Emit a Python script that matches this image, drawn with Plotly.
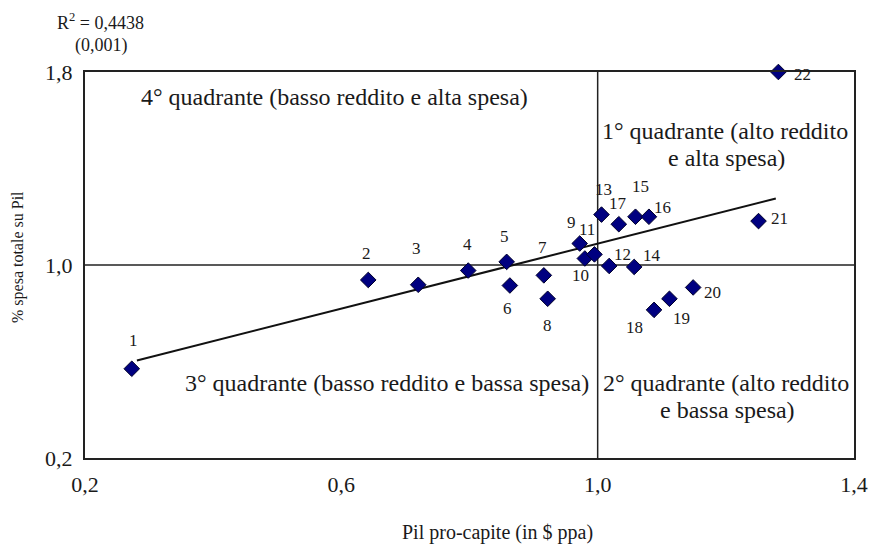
import plotly.graph_objects as go

# Paesi numerati: Pil pro-capite (in $ ppa, indice) e % spesa totale su Pil (indice)
ids = [str(i) for i in range(1, 23)]
pil = [0.273, 0.642, 0.720, 0.798, 0.858, 0.863, 0.916, 0.922, 0.972, 0.980, 0.995,
       1.018, 1.006, 1.057, 1.059, 1.080, 1.033, 1.088, 1.112, 1.149, 1.251, 1.282]
spesa = [0.570, 0.938, 0.918, 0.977, 1.013, 0.915, 0.957, 0.860, 1.089, 1.027, 1.044,
         0.996, 1.209, 0.992, 1.200, 1.200, 1.169, 0.814, 0.860, 0.907, 1.182, 1.800]

# label offsets (px) of each country number relative to its marker
lab_dx = [2, -2, -2, -1, -2, -2, -1, 0, -8, -4, -7, 13, 2, 18, 5, 14, -1, -20, 12, 19, 21, 24]
lab_dy = [28, 26, 36, 26, 25, -23, 28, -27, 21, -17, 25, 11, 25, 11, 30, 9, 21, -18, -20, -5, 3, -2]

# retta di regressione (estremi)
fit_x = [0.281, 1.278]
fit_y = [0.604, 1.276]

x_ticks = [0.2, 0.6, 1.0, 1.4]
y_ticks = [0.2, 1.0, 1.8]

SERIF = "Liberation Serif, Times New Roman, serif"
INK = "#1a1a1a"

fig = go.Figure()

fig.add_trace(go.Scatter(
    x=fit_x, y=fit_y, mode="lines",
    line=dict(color="#111111", width=2), hoverinfo="skip", showlegend=False,
))
fig.add_trace(go.Scatter(
    x=pil, y=spesa, mode="markers", cliponaxis=False,
    marker=dict(symbol="diamond", size=12, color="#000080",
                line=dict(color="#00002a", width=1)),
    text=ids, showlegend=False,
))

# quadrant dividers
fig.add_shape(type="line", x0=1.0, x1=1.0, y0=0.2, y1=1.8, xref="x", yref="y",
              line=dict(color="#222222", width=1.5), layer="below")
fig.add_shape(type="line", x0=0.2, x1=1.4, y0=1.0, y1=1.0, xref="x", yref="y",
              line=dict(color="#222222", width=1.5), layer="below")

annotations = []
for name, xv, yv, dx, dy in zip(ids, pil, spesa, lab_dx, lab_dy):
    annotations.append(dict(
        x=xv, y=yv, xref="x", yref="y", text=name, showarrow=False,
        xshift=dx, yshift=dy, font=dict(family=SERIF, size=17, color=INK),
    ))

# quadrant captions (x, y in axis units)
quad_font = dict(family=SERIF, size=24, color=INK)
captions = [
    ("4° quadrante (basso reddito e alta spesa)", 0.590, 1.696),
    ("1° quadrante (alto reddito", 1.199, 1.555),
    ("e alta spesa)", 1.201, 1.443),
    ("3° quadrante (basso reddito e bassa spesa)", 0.672, 0.509),
    ("2° quadrante (alto reddito", 1.200, 0.509),
    ("e bassa spesa)", 1.203, 0.397),
]
for txt, xv, yv in captions:
    annotations.append(dict(x=xv, y=yv, xref="x", yref="y", text=txt,
                            showarrow=False, font=quad_font))

# R² with its p-value above the y axis
note_font = dict(family=SERIF, size=18, color=INK)
annotations.append(dict(xref="paper", yref="paper", x=0.0, y=1.0,
                        xshift=15, yshift=51, xanchor="center", yanchor="middle",
                        text="R<sup>2</sup> = 0,4438", showarrow=False, font=note_font))
annotations.append(dict(xref="paper", yref="paper", x=0.0, y=1.0,
                        xshift=16, yshift=27, xanchor="center", yanchor="middle",
                        text="(0,001)", showarrow=False, font=note_font))

# axis titles
annotations.append(dict(xref="paper", yref="paper", x=0.0, y=0.5,
                        xshift=-67, yshift=8, xanchor="center", yanchor="middle",
                        textangle=-90, text="% spesa totale su Pil", showarrow=False,
                        font=dict(family=SERIF, size=16, color=INK)))
annotations.append(dict(xref="paper", yref="paper", x=0.5, y=0.0,
                        xshift=28, yshift=-74, xanchor="center", yanchor="middle",
                        text="Pil pro-capite (in $ ppa)", showarrow=False,
                        font=dict(family=SERIF, size=20, color=INK)))

axis_common = dict(
    showgrid=False, zeroline=False, showline=True, mirror=True,
    linecolor="#222222", linewidth=2, ticks="",
    tickfont=dict(family=SERIF, size=22, color=INK),
    tickformat=".1f",
)

fig.update_layout(
    width=880, height=544,
    margin=dict(l=85, r=16, t=72, b=86),
    paper_bgcolor="white", plot_bgcolor="white",
    separators=",.",
    xaxis=dict(range=[0.2, 1.4], tickvals=x_ticks, ticklabelstandoff=6, **axis_common),
    yaxis=dict(range=[0.2, 1.8], tickvals=y_ticks, ticklabelstandoff=6, **axis_common),
    annotations=annotations,
    font=dict(family=SERIF),
)

fig.write_html("out.html")
